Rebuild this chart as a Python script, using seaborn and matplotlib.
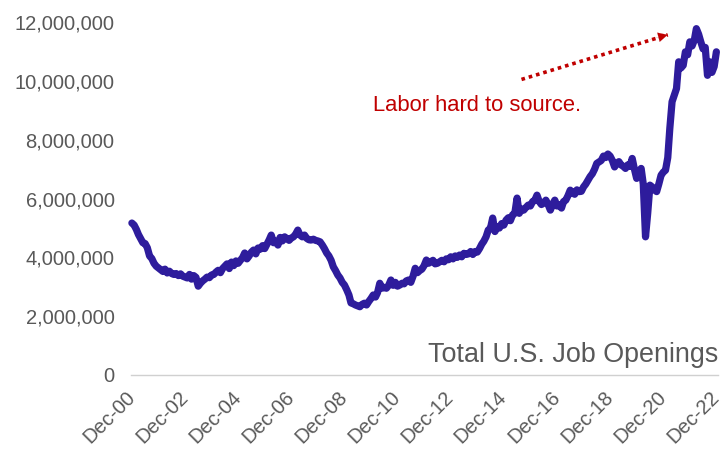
from __future__ import annotations

import matplotlib

matplotlib.use("Agg")

import matplotlib.pyplot as plt
import matplotlib.ticker as mticker
import pandas as pd
import seaborn as sns

# Monthly job openings (thousands), Dec 2000 .. Dec 2022
start_month = "2000-12-01"
openings_k = [
    5170,
    5100, 4950, 4780, 4640, 4500, 4470, 4330, 4050, 3960, 3800, 3700, 3640,  # 2001
    3580, 3520, 3600, 3470, 3530, 3450, 3420, 3450, 3380, 3440, 3360, 3330,  # 2002
    3300, 3420, 3260, 3380, 3320, 3020, 3120, 3200, 3260, 3330, 3310, 3400,  # 2003
    3420, 3500, 3560, 3480, 3620, 3700, 3780, 3620, 3840, 3720, 3880, 3800,  # 2004
    3900, 4000, 4150, 3950, 4050, 4180, 4250, 4120, 4320, 4280, 4400, 4300,  # 2005
    4450, 4600, 4760, 4500, 4550, 4420, 4680, 4560, 4700, 4640, 4580, 4660,  # 2006
    4700, 4800, 4930, 4760, 4700, 4760, 4650, 4600, 4590, 4620, 4580, 4560,  # 2007
    4530, 4420, 4300, 4150, 4050, 3900, 3680, 3550, 3400, 3300, 3150, 3060,  # 2008
    2900, 2720, 2450, 2420, 2380, 2350, 2320, 2400, 2440, 2380, 2500, 2600,  # 2009
    2720, 2650, 2800, 3120, 2950, 2980, 2950, 3050, 3230, 3050, 3150, 3020,  # 2010
    3060, 3120, 3100, 3200, 3230, 3150, 3350, 3630, 3480, 3550, 3600, 3720,  # 2011
    3910, 3800, 3850, 3900, 3780, 3800, 3850, 3900, 3850, 3950, 3920, 4020,  # 2012
    3950, 4050, 4000, 4080, 4020, 4140, 4100, 4120, 4200, 4100, 4200, 4180,  # 2013
    4300, 4450, 4550, 4700, 4930, 5000, 5340, 4880, 5050, 5000, 5150, 5100,  # 2014
    5270, 5350, 5250, 5450, 5500, 6020, 5500, 5650, 5610, 5700, 5780, 5750,  # 2015
    5900, 5950, 6120, 5900, 5800, 5850, 5950, 5800, 5610, 5800, 5950, 5750,  # 2016
    5800, 5680, 5900, 5950, 6100, 6290, 6200, 6150, 6300, 6240, 6250, 6400,  # 2017
    6500, 6630, 6750, 6850, 7000, 7200, 7250, 7300, 7450, 7400, 7520, 7450,  # 2018
    7300, 7080, 7200, 7260, 7150, 7100, 7030, 7150, 7100, 7370, 7000, 6690,  # 2019
    6900, 7030, 6500, 4700, 5500, 6460, 6400, 6300, 6240, 6500, 6800, 6900,  # 2020
    6970, 7400, 8390, 9300, 9520, 9750, 10660, 10450, 10540, 11000, 10900, 11340,  # 2021
    11200, 11400, 11790, 11600, 11340, 11100, 11150, 10200, 10660, 10300, 10500, 11000,  # 2022
]

tick_years = list(range(2000, 2023, 2))
tick_labels = [f"Dec-{y % 100:02d}" for y in tick_years]
y_ticks = [0, 2_000_000, 4_000_000, 6_000_000, 8_000_000, 10_000_000, 12_000_000]

LINE_COLOR = "#2E1C9C"
TEXT_GRAY = "#595959"
NOTE_RED = "#C00000"


def build_frame() -> pd.DataFrame:
    dates = pd.date_range(start_month, periods=len(openings_k), freq="MS")
    return pd.DataFrame({"date": dates, "openings": [v * 1000 for v in openings_k]})


def main() -> None:
    sns.set_theme(style="white")
    plt.rcParams["font.family"] = ["Liberation Sans", "DejaVu Sans"]

    df = build_frame()
    fig = plt.figure(figsize=(7.25, 4.68), dpi=100)
    ax = fig.add_axes([0.181, 0.199, 0.809, 0.753])

    sns.lineplot(
        data=df, x="date", y="openings", ax=ax,
        color=LINE_COLOR, linewidth=5.2, solid_joinstyle="round",
        solid_capstyle="round",
    )

    ax.set_ylim(0, 12_000_000)
    ax.set_xlim(pd.Timestamp("2000-11-22"), pd.Timestamp("2022-12-20"))
    ax.set_yticks(y_ticks)
    ax.yaxis.set_major_formatter(mticker.FuncFormatter(lambda v, _: f"{v:,.0f}"))
    ax.set_xticks([pd.Timestamp(f"{y}-12-01") for y in tick_years])
    ax.set_xticklabels(
        tick_labels, rotation=45, ha="right", va="center", rotation_mode="anchor"
    )
    ax.set_xlabel("")
    ax.set_ylabel("")

    ax.tick_params(axis="y", length=0, pad=12, labelsize=14.5, labelcolor=TEXT_GRAY)
    ax.tick_params(axis="x", length=0, pad=14, labelsize=14.5, labelcolor=TEXT_GRAY)

    for side in ("left", "right", "top"):
        ax.spines[side].set_visible(False)
    ax.spines["bottom"].set_color("#D0D0D0")
    ax.spines["bottom"].set_linewidth(1.0)
    ax.grid(False)
    for line in ax.get_lines():
        line.set_clip_on(False)

    ax.text(
        1.0, 0.055, "Total U.S. Job Openings", transform=ax.transAxes,
        ha="right", va="center", fontsize=19.4, color=TEXT_GRAY,
    )
    ax.text(
        pd.Timestamp("2010-01-01"), 9_180_000, "Labor hard to source.",
        ha="left", va="center", fontsize=15.8, color=NOTE_RED,
    )

    # dotted shaft plus a solid head for the callout arrow
    arrow_tail = (pd.Timestamp("2015-08-01"), 10_060_000)
    arrow_tip = (pd.Timestamp("2021-02-01"), 11_580_000)
    ax.plot(
        [arrow_tail[0], arrow_tip[0]], [arrow_tail[1], arrow_tip[1]],
        color=NOTE_RED, linewidth=2.6, linestyle=(0, (1, 1.1)),
        dash_capstyle="butt",
    )
    ax.annotate(
        "",
        xy=arrow_tip,
        xytext=(pd.Timestamp("2020-06-01"), 11_420_000),
        arrowprops=dict(
            arrowstyle="-|>", color=NOTE_RED, linewidth=0.1,
            mutation_scale=17, shrinkA=0, shrinkB=0,
        ),
    )

    fig.savefig("out.png", dpi=100)
    plt.close(fig)


if __name__ == "__main__":
    main()
